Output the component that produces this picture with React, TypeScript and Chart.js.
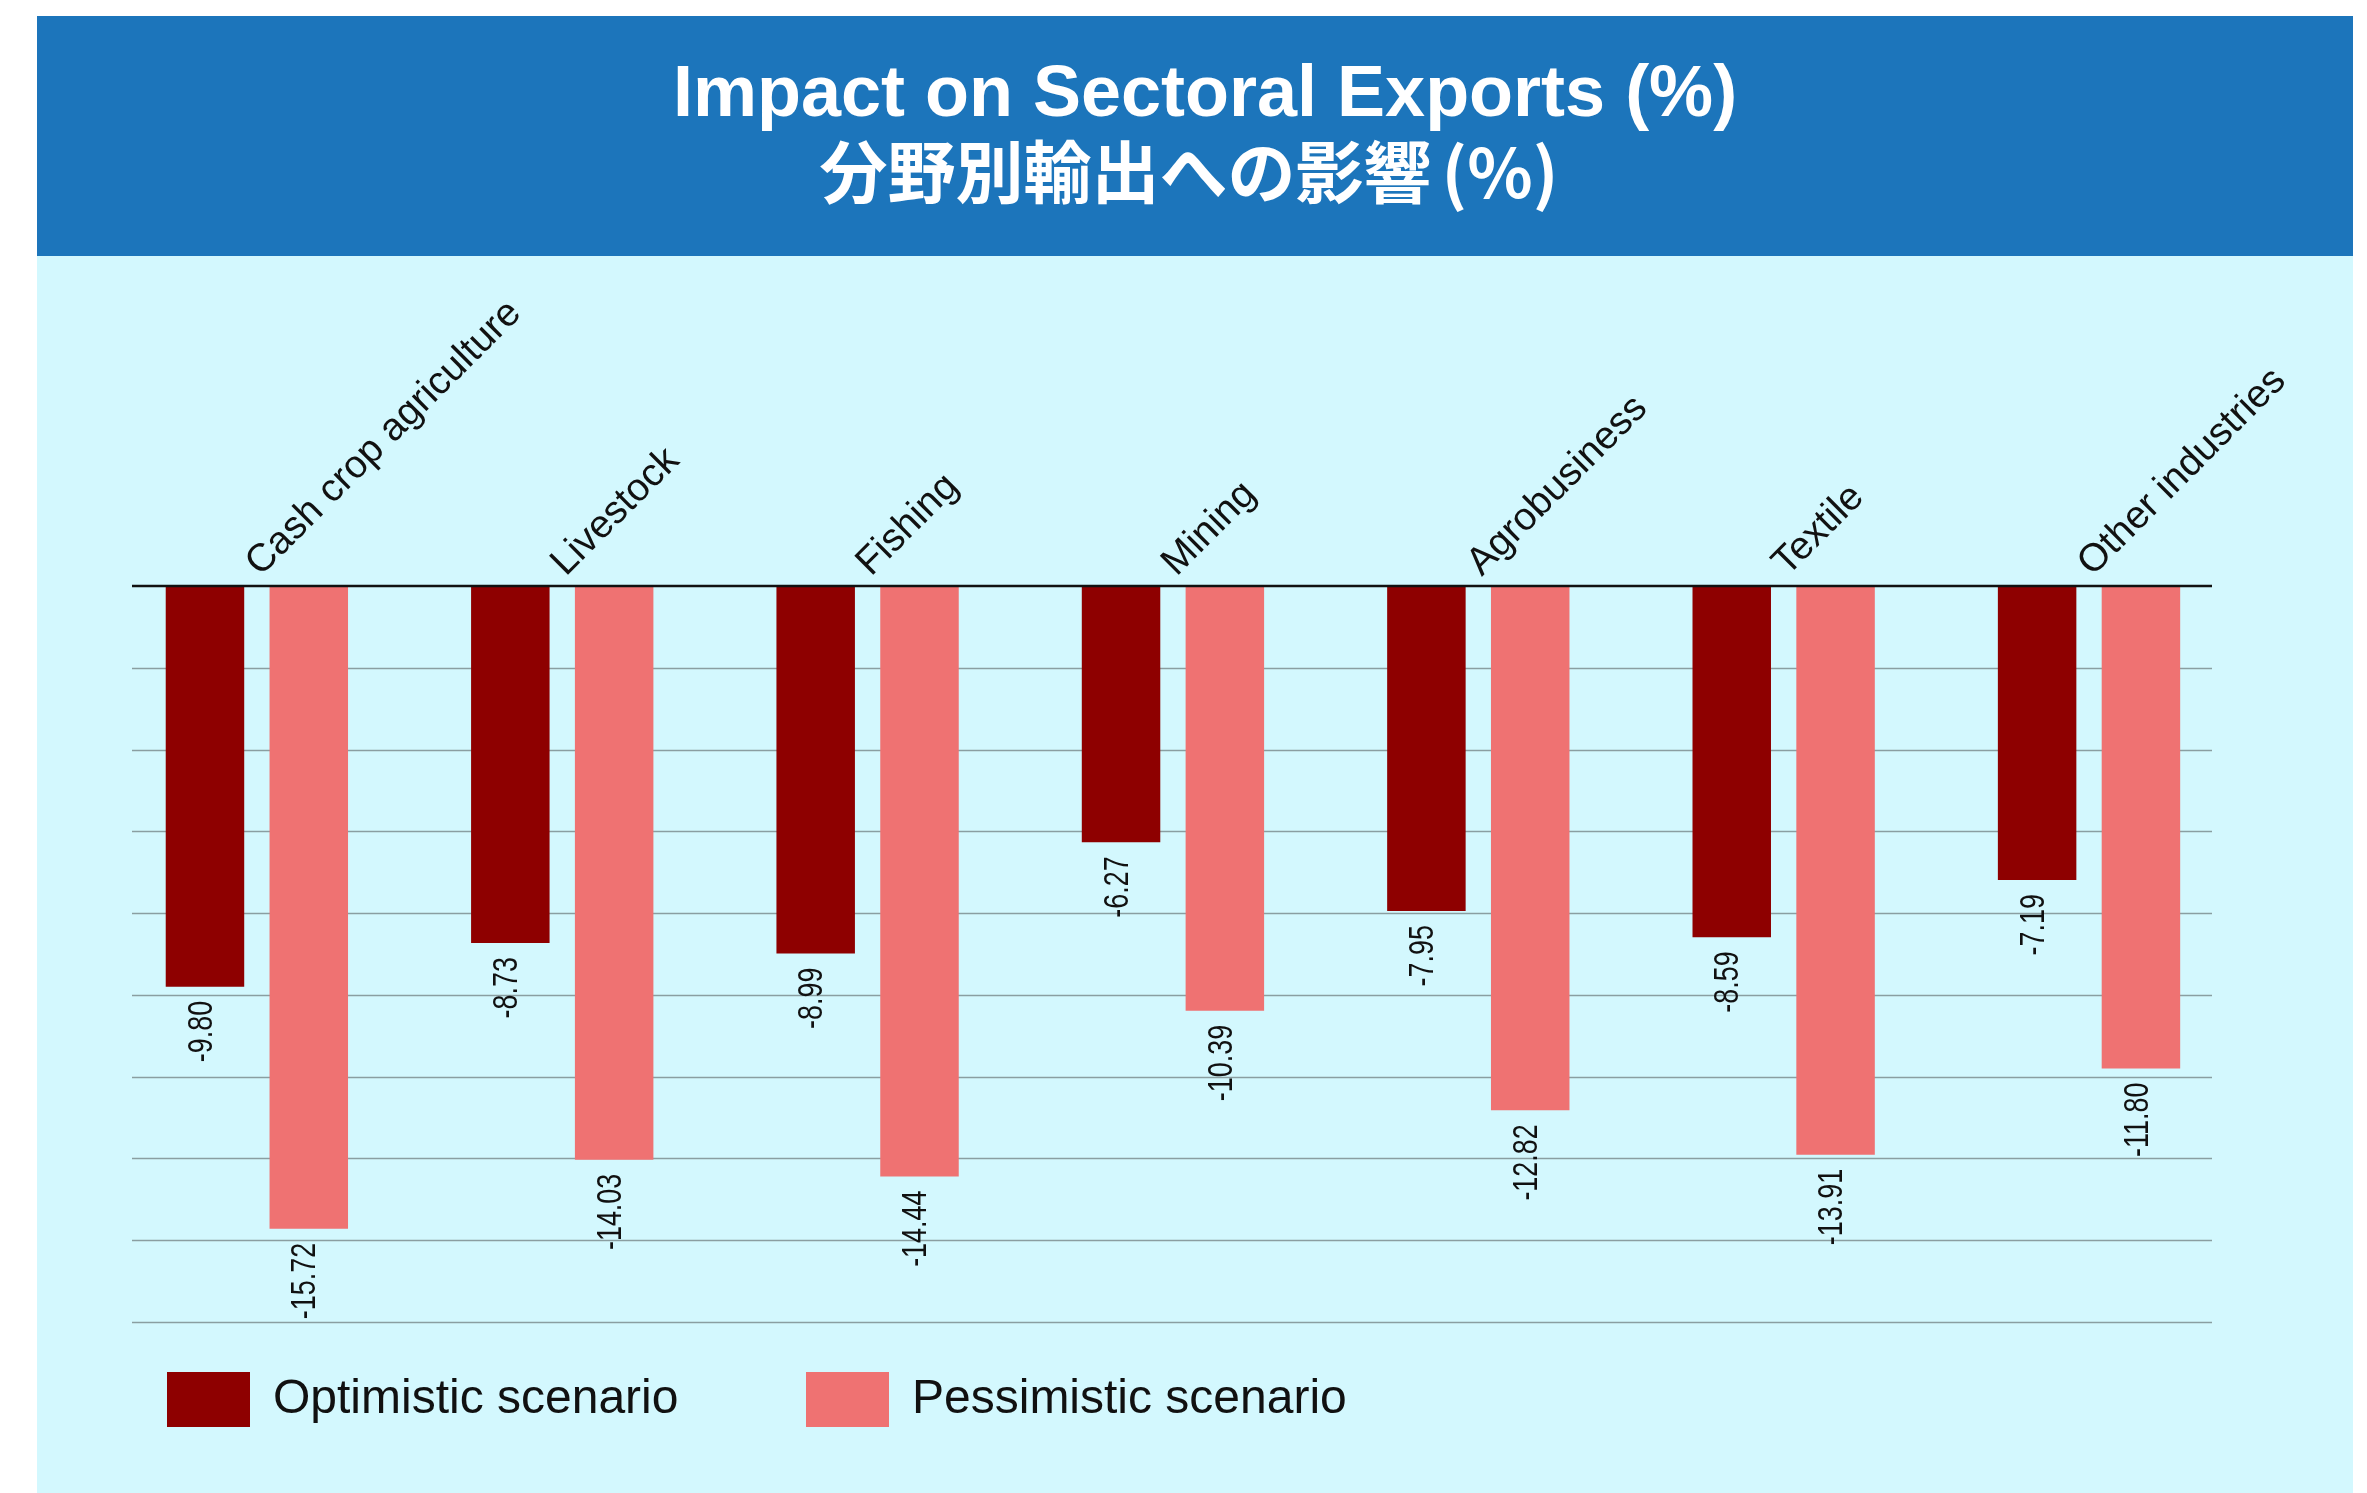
import { useEffect, useRef } from "react";
import { Chart, registerables } from "chart.js";

Chart.register(...registerables);

// ---- data ----
const categories = [
  "Cash crop agriculture",
  "Livestock",
  "Fishing",
  "Mining",
  "Agrobusiness",
  "Textile",
  "Other industries",
];
const optimistic = [-9.8, -8.73, -8.99, -6.27, -7.95, -8.59, -7.19];
const pessimistic = [-15.72, -14.03, -14.44, -10.39, -12.82, -13.91, -11.8];
const seriesNames = ["Optimistic scenario", "Pessimistic scenario"];
const yMin = -18;
const yMax = 0;
const yStep = 2;
const titleLine1 = "Impact on Sectoral Exports (%)";
const titleLine2Main = "分野別輸出への影響";
const titleLine2Unit = "(%)";

// ---- styles / layout ----
const COLORS = ["#8e0000", "#ef7272"];
const PANEL_BG = "#d3f8fe";
const HEADER_BG = "#1c75bb";
const CANVAS_W = 2316;
const CANVAS_H = 1237;
const GRID_LEFT = 95;
const GRID_RIGHT = 2175;
const SANS = "'Liberation Sans', Arial, Helvetica, sans-serif";

const gridPlugin = {
  id: "customGrid",
  beforeDatasetsDraw(chart: any) {
    const { ctx } = chart;
    const y = chart.scales.y;
    ctx.save();
    ctx.strokeStyle = "#8a9ea1";
    ctx.lineWidth = 1.6;
    for (let v = yMin; v < yMax; v += yStep) {
      const py = Math.round(y.getPixelForValue(v)) + 0.5;
      ctx.beginPath();
      ctx.moveTo(GRID_LEFT, py);
      ctx.lineTo(GRID_RIGHT, py);
      ctx.stroke();
    }
    ctx.restore();
  },
  afterDatasetsDraw(chart: any) {
    const { ctx } = chart;
    const y = chart.scales.y;
    ctx.save();
    ctx.strokeStyle = "#111111";
    ctx.lineWidth = 2.6;
    const py = y.getPixelForValue(yMax);
    ctx.beginPath();
    ctx.moveTo(GRID_LEFT, py);
    ctx.lineTo(GRID_RIGHT, py);
    ctx.stroke();
    ctx.restore();
  },
};

const valueLabelPlugin = {
  id: "valueLabels",
  afterDatasetsDraw(chart: any) {
    const { ctx } = chart;
    chart.data.datasets.forEach((ds: any, di: number) => {
      const meta = chart.getDatasetMeta(di);
      meta.data.forEach((bar: any, i: number) => {
        const v = ds.data[i] as number;
        ctx.save();
        ctx.translate(bar.x - 3, bar.y + 14);
        ctx.rotate(-Math.PI / 2);
        ctx.scale(0.77, 1);
        ctx.font = `35px ${SANS}`;
        ctx.textAlign = "right";
        ctx.textBaseline = "middle";
        ctx.fillStyle = "#111111";
        ctx.fillText(v.toFixed(2), 0, 0);
        ctx.restore();
      });
    });
  },
};

const LEGEND_X = 130;
const LEGEND_Y = 1116;
const LEGEND_BOX_W = 83;
const LEGEND_BOX_H = 55;
const LEGEND_TEXT_GAP = 23;
const LEGEND_ITEM_STEP = 639;

const legendPlugin = {
  id: "customLegend",
  afterDraw(chart: any) {
    const { ctx } = chart;
    ctx.save();
    chart.data.datasets.forEach((ds: any, di: number) => {
      const x = LEGEND_X + di * LEGEND_ITEM_STEP;
      ctx.fillStyle = ds.backgroundColor;
      ctx.fillRect(x, LEGEND_Y, LEGEND_BOX_W, LEGEND_BOX_H);
      ctx.fillStyle = "#111111";
      ctx.font = `48px ${SANS}`;
      ctx.textAlign = "left";
      ctx.textBaseline = "middle";
      ctx.fillText(ds.label, x + LEGEND_BOX_W + LEGEND_TEXT_GAP, LEGEND_Y + LEGEND_BOX_H / 2);
    });
    ctx.restore();
  },
};

function ExportsChart() {
  const ref = useRef<HTMLCanvasElement | null>(null);
  useEffect(() => {
    if (!ref.current) return;
    const chart = new Chart(ref.current, {
      type: "bar",
      data: {
        labels: categories,
        datasets: [
          { label: seriesNames[0], data: optimistic, backgroundColor: COLORS[0], borderWidth: 0 },
          { label: seriesNames[1], data: pessimistic, backgroundColor: COLORS[1], borderWidth: 0 },
        ],
      },
      options: {
        responsive: false,
        animation: false,
        devicePixelRatio: 1,
        layout: { padding: { left: 67.2, right: 111.3, top: 0, bottom: 171 } },
        datasets: { bar: { barPercentage: 0.756, categoryPercentage: 0.68 } },
        plugins: {
          legend: { display: false },
          tooltip: { enabled: false },
          title: { display: false },
        },
        scales: {
          x: {
            position: "top",
            offset: true,
            grid: { display: false, drawTicks: false },
            border: { display: false },
            ticks: {
              autoSkip: false,
              minRotation: 45,
              maxRotation: 45,
              padding: 0,
              labelOffset: 29,
              color: "#111111",
              font: { family: SANS, size: 39 },
            },
            afterFit: (s: any) => {
              s.height = 330;
            },
          },
          y: {
            display: false,
            min: yMin,
            max: yMax,
            ticks: { stepSize: yStep },
          },
        },
      } as any,
      plugins: [gridPlugin, valueLabelPlugin, legendPlugin],
    });
    return () => chart.destroy();
  }, []);
  return (
    <canvas
      ref={ref}
      width={CANVAS_W}
      height={CANVAS_H}
      style={{ position: "absolute", left: 0, top: 240, display: "block", width: CANVAS_W, height: CANVAS_H }}
    />
  );
}

export default function App() {
  return (
    <div
      style={{
        position: "absolute",
        left: 37,
        top: 16,
        width: 2316,
        height: 1477,
        background: PANEL_BG,
        overflow: "hidden",
      }}
    >
      <div
        style={{
          position: "absolute",
          left: 0,
          top: 0,
          width: "100%",
          height: 240,
          background: HEADER_BG,
        }}
      >
        <div
          style={{
            position: "absolute",
            top: 30,
            left: 20,
            right: 0,
            textAlign: "center",
            color: "#ffffff",
            fontFamily: SANS,
            fontWeight: 700,
            fontSize: 72,
            lineHeight: "90px",
            whiteSpace: "nowrap",
          }}
        >
          {titleLine1}
        </div>
        <div
          style={{
            position: "absolute",
            top: 108,
            left: -12,
            right: 0,
            textAlign: "center",
            color: "#ffffff",
            fontFamily: "'Noto Sans CJK JP', 'Noto Sans CJK SC', sans-serif",
            fontWeight: 700,
            fontSize: 68,
            lineHeight: "90px",
            whiteSpace: "nowrap",
          }}
        >
          {titleLine2Main}
          <span style={{ marginLeft: 10 }}>{titleLine2Unit}</span>
        </div>
      </div>
      <ExportsChart />
    </div>
  );
}
